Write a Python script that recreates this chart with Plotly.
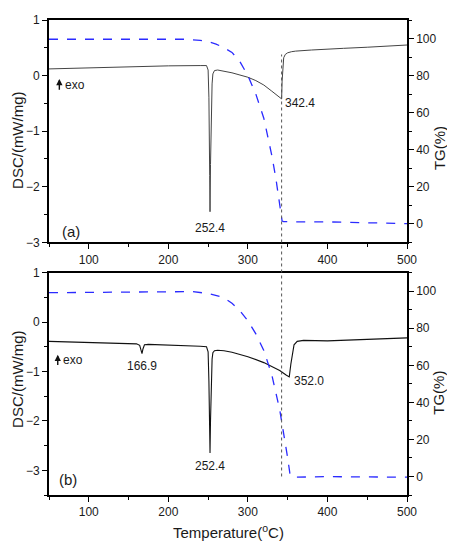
import plotly.graph_objects as go

# ---- data ----
# panel (a)
temp_dsc_a = [50, 100, 150, 200, 240, 248, 250, 251, 252, 252.4, 253, 254, 255, 256, 258, 262,
              270, 280, 290, 300, 310, 320, 330, 338, 341, 342.4, 343, 344, 345, 347, 350, 355,
              360, 380, 400, 420, 450, 480, 500]
dsc_a = [0.12, 0.14, 0.16, 0.175, 0.18, 0.18, 0.1, -0.4, -1.8, -2.45, -1.6, -0.6, -0.15, 0.03, 0.09, 0.1,
         0.08, 0.05, 0.01, -0.03, -0.09, -0.17, -0.28, -0.38, -0.41, -0.42, -0.1, 0.2, 0.32, 0.38, 0.41, 0.43,
         0.44, 0.46, 0.47, 0.49, 0.51, 0.54, 0.55]
temp_tg_a = [50, 100, 150, 200, 220, 240, 250, 260, 270, 280, 290, 300, 310, 320, 330, 335, 340,
             342, 343, 345, 350, 400, 450, 500]
tg_a = [99.6, 99.7, 99.8, 99.8, 99.6, 99.0, 98.3, 97.0, 95.0, 92.5, 87.5, 80, 70, 57, 37, 25, 11,
        4, 1.5, 1.2, 1.1, 1.0, 0.6, 0.1]

# panel (b)
temp_dsc_b = [50, 100, 150, 160, 164, 166, 166.9, 168, 170, 175, 200, 240, 248, 250, 251, 252, 252.4,
              253, 254, 255, 256, 258, 262, 270, 280, 300, 320, 330, 340, 348, 352, 354, 356, 358,
              362, 370, 400, 450, 500]
dsc_b = [-0.39, -0.41, -0.43, -0.44, -0.47, -0.58, -0.64, -0.55, -0.46, -0.45, -0.46, -0.49, -0.5, -0.6,
         -1.2, -2.3, -2.65, -2.0, -1.1, -0.75, -0.62, -0.58, -0.57, -0.58, -0.61, -0.70, -0.82, -0.90,
         -0.98, -1.07, -1.11, -0.85, -0.6, -0.46, -0.39, -0.37, -0.38, -0.35, -0.32]
temp_tg_b = [50, 100, 150, 200, 230, 250, 260, 270, 280, 290, 300, 310, 320, 330, 340, 345, 350,
             353, 356, 400, 450, 500]
tg_b = [99.2, 99.4, 99.6, 99.8, 99.8, 98.8, 97.8, 96.5, 93.5, 89.5, 84, 77, 68, 55, 36, 24, 10,
        1, -0.4, -0.1, -0.2, -0.4]

# peak labels: (temperature, dsc position of label, text)
peaks_a = [(252.4, -2.75, "252.4"), (342.4, -0.5, "342.4")]
peaks_b = [(166.9, -0.89, "166.9"), (252.4, -2.91, "252.4"), (352.0, -1.19, "352.0")]
guide_temp = 342.4

FONT = "Liberation Sans, Arial, sans-serif"
INK = "#1a1a1a"
AX = "#000000"
TG_RANGE = [-10, 110]
DSC_RANGE_A = [-3, 1]
DSC_RANGE_B = [-3.5, 1]
DOM_A = [0.532, 1.0]
DOM_B = [0.0, 0.468]

fig = go.Figure()

tg_line = {"color": "#2b2bff", "width": 1.3, "dash": "dash"}

fig.add_trace(go.Scatter(x=temp_dsc_a, y=dsc_a, mode="lines", line={"width": 1, "color": "#444"},
                         xaxis="x", yaxis="y", showlegend=False))
fig.add_trace(go.Scatter(x=temp_tg_a, y=tg_a, mode="lines", line=tg_line,
                         xaxis="x", yaxis="y2", showlegend=False))
fig.add_trace(go.Scatter(x=temp_dsc_b, y=dsc_b, mode="lines", line={"width": 1.1, "color": "#111"},
                         xaxis="x2", yaxis="y3", showlegend=False))
fig.add_trace(go.Scatter(x=temp_tg_b, y=tg_b, mode="lines", line=tg_line,
                         xaxis="x2", yaxis="y4", showlegend=False))

tick_font = {"family": FONT, "size": 12, "color": INK}
axis_style = dict(ticks="outside", ticklen=5, tickwidth=1.2, tickcolor=AX, showline=True,
                  linecolor=AX, linewidth=1.6, showgrid=False, zeroline=False, tickfont=tick_font)


def x_axis(anchor):
    return dict(anchor=anchor, range=[50, 500], tick0=0, dtick=100, mirror=True, **axis_style,
                minor={"ticks": "outside", "ticklen": 3, "dtick": 50, "tick0": 0, "tickcolor": AX})


def dsc_axis(anchor, rng, dom):
    return dict(anchor=anchor, domain=dom, range=rng, dtick=1, mirror=True, **axis_style,
                minor={"ticks": "outside", "ticklen": 3, "dtick": 0.5, "tickcolor": AX})


def tg_axis(anchor, overlay, dom):
    return dict(anchor=anchor, overlaying=overlay, side="right", domain=dom, range=TG_RANGE,
                tick0=0, dtick=20, **axis_style,
                minor={"ticks": "outside", "ticklen": 3, "dtick": 10, "tick0": 0, "tickcolor": AX})


def text(x, y, s, xref, yref, size=12, **kw):
    kw.setdefault("xanchor", "center")
    kw.setdefault("yanchor", "middle")
    return dict(x=x, y=y, xref=xref, yref=yref, text=s, showarrow=False,
                font={"family": FONT, "size": size, "color": INK}, **kw)


annotations = []
for t, y, s in peaks_a:
    annotations.append(text(t + (2 if t > 300 else 0), y, s, "x", "y",
                            xanchor="left" if t > 300 else "center"))
for t, y, s in peaks_b:
    annotations.append(text(t + (4 if t > 300 else 0), y, s, "x2", "y3",
                            xanchor="left" if t > 300 else "center"))

annotations += [
    text(78, -2.8, "(a)", "x", "y", size=15),
    text(74, -3.18, "(b)", "x2", "y3", size=15),
    # exo markers
    dict(x=63, y=-0.06, ax=63, ay=-0.28, xref="x", yref="y", axref="x", ayref="y", text="",
         showarrow=True, arrowhead=2, arrowsize=0.9, arrowwidth=1.4, arrowcolor="#111"),
    text(67, -0.17, "exo", "x", "y", xanchor="left"),
    dict(x=61, y=-0.66, ax=61, ay=-0.9, xref="x2", yref="y3", axref="x2", ayref="y3", text="",
         showarrow=True, arrowhead=2, arrowsize=0.9, arrowwidth=1.4, arrowcolor="#111"),
    text(65, -0.77, "exo", "x2", "y3", xanchor="left"),
    # axis titles
    text(-0.090, 0.747, "DSC/(mW/mg)", "paper", "paper", size=15, textangle=-90),
    text(-0.090, 0.244, "DSC/(mW/mg)", "paper", "paper", size=15, textangle=-90),
    text(1.089, 0.730, "TG(%)", "paper", "paper", size=15, textangle=-90),
    text(1.089, 0.215, "TG(%)", "paper", "paper", size=15, textangle=-90),
    text(0.5, -0.076, "Temperature(<sup>o</sup>C)", "paper", "paper", size=15),
]


def paper_y(val, rng, dom):
    return dom[0] + (val - rng[0]) / (rng[1] - rng[0]) * (dom[1] - dom[0])


# vertical dotted guide across both panels
guide_top = paper_y(0.38, DSC_RANGE_A, DOM_A)
guide_bottom = paper_y(0, TG_RANGE, DOM_B)

shapes = [
    dict(type="line", xref="x", yref="paper", x0=guide_temp, x1=guide_temp,
         y0=guide_bottom, y1=guide_top, line={"color": "#555", "width": 1, "dash": "dot"}),
]

# the page body adds an 8px offset, so margins are trimmed by that much
fig.update_layout(
    width=455, height=550,
    margin={"l": 41, "r": 56, "t": 5, "b": 63},
    paper_bgcolor="white", plot_bgcolor="white",
    font={"family": FONT, "color": INK},
    xaxis=x_axis("y"),
    xaxis2=x_axis("y3"),
    yaxis=dsc_axis("x", DSC_RANGE_A, DOM_A),
    yaxis2=tg_axis("x", "y", DOM_A),
    yaxis3=dsc_axis("x2", DSC_RANGE_B, DOM_B),
    yaxis4=tg_axis("x2", "y3", DOM_B),
    annotations=annotations,
    shapes=shapes,
)

fig.write_html("out.html")
